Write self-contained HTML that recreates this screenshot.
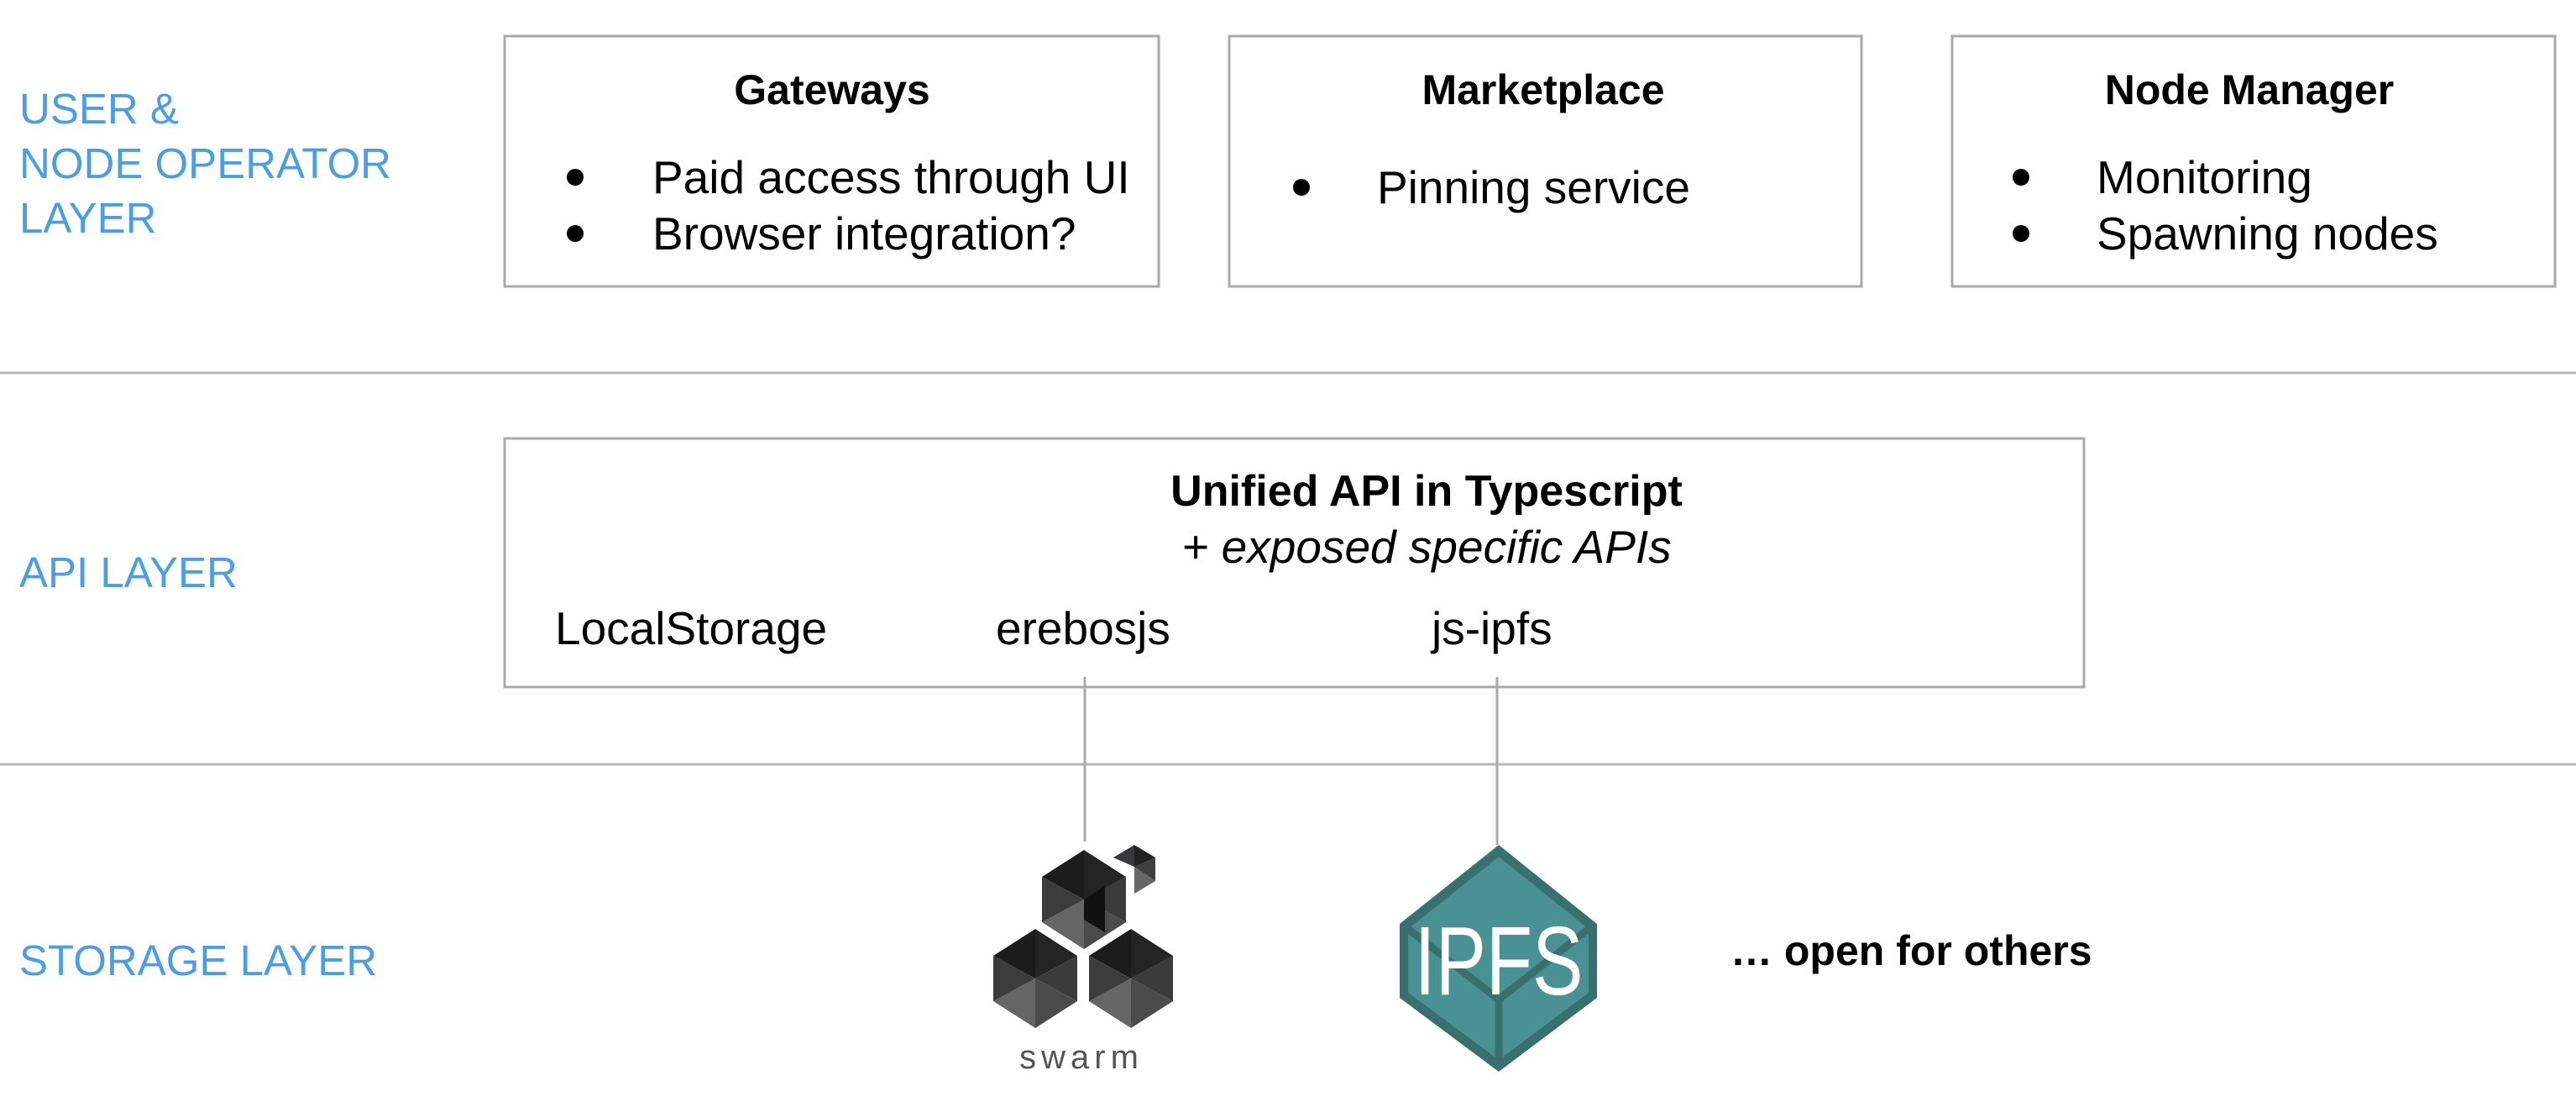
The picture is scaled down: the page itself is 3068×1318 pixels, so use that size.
<!DOCTYPE html>
<html><head><meta charset="utf-8"><style>
html,body{margin:0;padding:0;background:#fff;width:3068px;height:1318px;overflow:hidden}
svg{display:block}
text{font-family:"Liberation Sans",sans-serif}
</style></head><body>
<svg width="3068" height="1318" viewBox="0 0 3068 1318">
<g fill="#4d9de0" font-size="51">
<text x="23" y="147">USER &amp;</text>
<text x="23" y="212">NODE OPERATOR</text>
<text x="23" y="277">LAYER</text>
<text x="23" y="699">API LAYER</text>
<text x="23" y="1161">STORAGE LAYER</text>
</g>
<g stroke="#b5b5b5" stroke-width="3">
<line x1="0" y1="444" x2="3068" y2="444"/>
<line x1="0" y1="910" x2="3068" y2="910"/>
</g>
<g fill="none" stroke="#a9a9a9" stroke-width="3">
<rect x="601" y="43" width="779" height="298"/>
<rect x="1464" y="43" width="753" height="298"/>
<rect x="2325" y="43" width="718" height="298"/>
<rect x="601" y="522" width="1881" height="296"/>
</g>
<g font-size="55" fill="#000">
<text x="991" y="124" font-size="50" font-weight="bold" text-anchor="middle">Gateways</text>
<circle cx="685" cy="211" r="10"/><circle cx="685" cy="278" r="10"/>
<text x="777" y="230">Paid access through UI</text>
<text x="777" y="297">Browser integration?</text>
<text x="1838" y="124" font-size="50" font-weight="bold" text-anchor="middle">Marketplace</text>
<circle cx="1550" cy="223" r="10"/>
<text x="1640" y="242">Pinning service</text>
<text x="2679" y="124" font-size="50" font-weight="bold" text-anchor="middle">Node Manager</text>
<circle cx="2407" cy="211" r="10"/><circle cx="2407" cy="278" r="10"/>
<text x="2497" y="230">Monitoring</text>
<text x="2497" y="297">Spawning nodes</text>
<text x="1699" y="602" font-size="52" font-weight="bold" text-anchor="middle">Unified API in Typescript</text>
<text x="1699" y="670" font-style="italic" text-anchor="middle">+ exposed specific APIs</text>
<text x="661" y="767">LocalStorage</text>
<text x="1186" y="767">erebosjs</text>
<text x="1705" y="767">js-ipfs</text>
<text x="2061" y="1149" font-size="50" font-weight="bold">… open for others</text>
</g>
<g stroke="#aaa" stroke-width="3">
<line x1="1292" y1="806" x2="1292" y2="1002"/>
<line x1="1783" y1="806" x2="1783" y2="1006"/>
</g>
<defs>
<g id="hx">
<polygon points="50,0 0,32 50,59" fill="#1b1c1c"/>
<polygon points="50,0 100,32 50,59" fill="#232424"/>
<polygon points="100,32 100,86 50,59" fill="#3a3b3b"/>
<polygon points="100,86 50,118 50,59" fill="#4a4b4b"/>
<polygon points="50,118 0,86 50,59" fill="#646565"/>
<polygon points="0,86 0,32 50,59" fill="#3b3c3c"/>
</g>
</defs>
<use href="#hx" x="1183" y="1106"/>
<use href="#hx" x="1297" y="1106"/>
<use href="#hx" x="1241" y="1012"/>
<polygon points="1291,1071 1316,1055 1316,1110 1291,1095" fill="#101111"/>
<g transform="translate(1326,1006)">
<polygon points="0,15 25,0 25,26" fill="#36383a"/>
<polygon points="25,0 50,15 25,26" fill="#222"/>
<polygon points="25,26 50,15 50,43" fill="#3e3f3f"/>
<polygon points="25,26 50,43 25,58" fill="#676767"/>
</g>
<text x="1288" y="1272" font-size="40" fill="#555" text-anchor="middle" letter-spacing="6">swarm</text>
<polygon points="1785,1006 1902,1100 1902,1188 1785,1276 1667,1188 1667,1100" fill="#38706f"/>
<polygon points="1785,1020 1892,1106 1892,1182 1785,1262 1677,1182 1677,1106" fill="#4a9194"/>
<g stroke="#38706f" stroke-width="9" fill="none">
<line x1="1677" y1="1106" x2="1785" y2="1190"/>
<line x1="1892" y1="1106" x2="1785" y2="1190"/>
<line x1="1785" y1="1190" x2="1785" y2="1270"/>
</g>
<text x="1785" y="1184" font-size="116" fill="#fff" text-anchor="middle" transform="translate(1785 0) scale(0.78 1) translate(-1785 0)">IPFS</text>
</svg>
</body></html>
